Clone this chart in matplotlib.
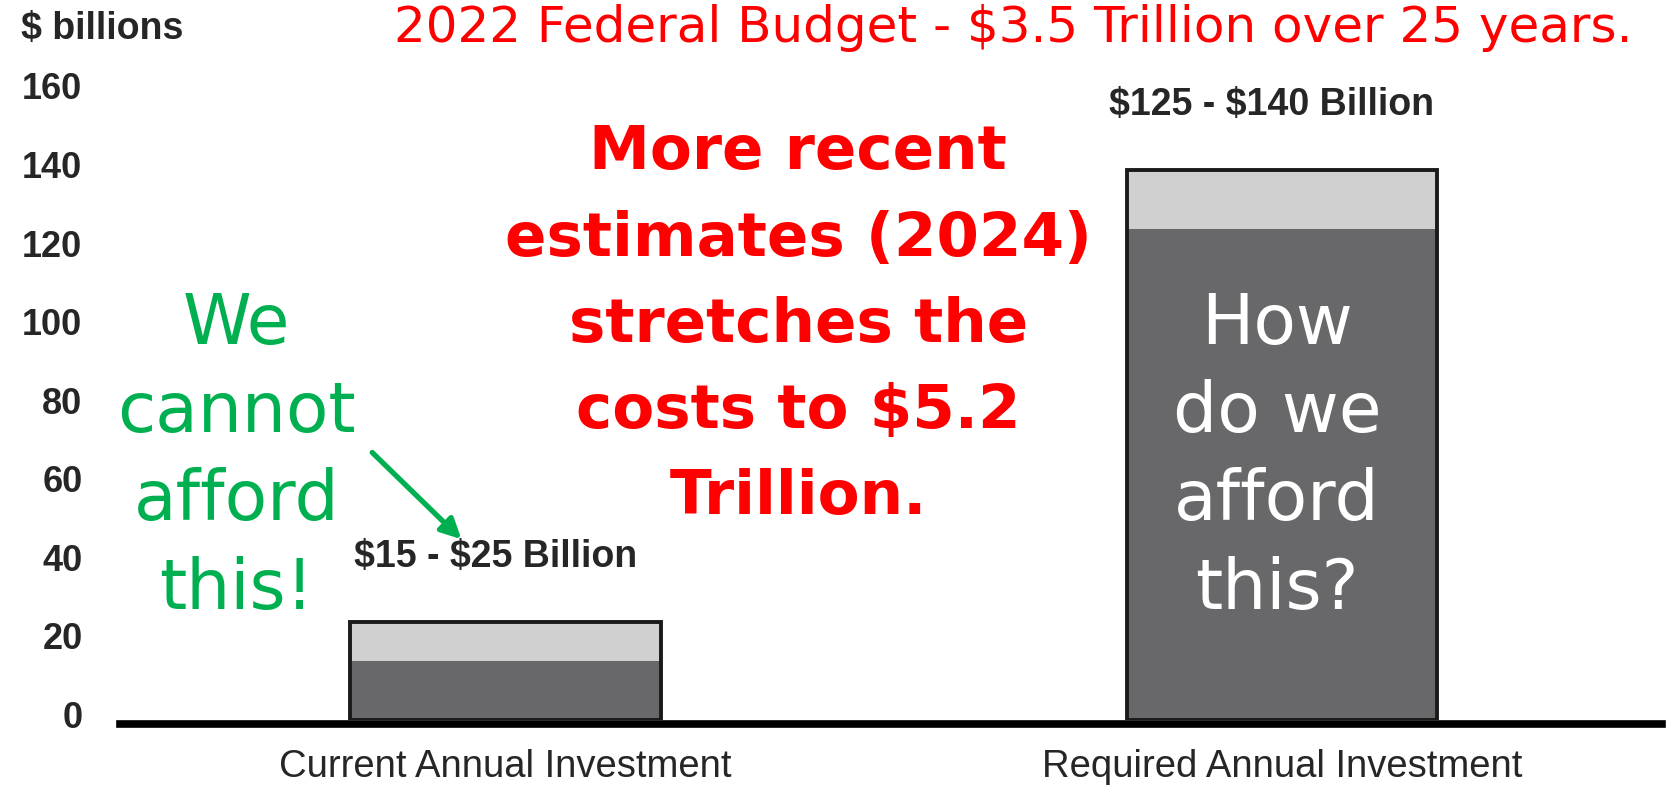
import matplotlib
matplotlib.use("Agg")
import matplotlib.pyplot as plt
from matplotlib.transforms import ScaledTranslation

# investment ranges, $ billions
categories = ["Current Annual Investment", "Required Annual Investment"]
low_vals = [15, 125]
high_vals = [25, 140]
range_labels = ["$15 - $25 Billion", "$125 - $140 Billion"]
y_ticks = [0, 20, 40, 60, 80, 100, 120, 140, 160]

title_txt = "2022 Federal Budget - $3.5 Trillion over 25 years."
red_txt = "More recent\nestimates (2024)\nstretches the\ncosts to $5.2\nTrillion."
green_txt = "We\ncannot\nafford\nthis!"
white_txt = "How\ndo we\nafford\nthis?"

DARK = "#686769"
LIGHT = "#cfd0cf"
RED = "#ff0000"
GREEN = "#00b050"
AXIS_FONT = ["Liberation Sans", "DejaVu Sans"]
SLIDE_FONT = ["DejaVu Sans"]


def esc(s):
    # keep dollar signs literal (no mathtext)
    return s.replace("$", r"\$")


W, H = 1668, 786
fig = plt.figure(figsize=(W / 100, H / 100), dpi=100)
ax = fig.add_axes([120 / W, 66 / H, (1662 - 120) / W, 656 / H])

xs = list(range(len(categories)))
width = 0.4

# dark lower part, light upper range, black outline round the whole bar
ax.bar(xs, low_vals, width=width, color=DARK, linewidth=0, zorder=2)
ax.bar(xs, [h - l for h, l in zip(high_vals, low_vals)], bottom=low_vals,
       width=width, color=LIGHT, linewidth=0, zorder=2)
ax.bar(xs, high_vals, width=width, fill=False, edgecolor="#1a1a1a",
       linewidth=2.8, zorder=3)

for x, top, lab in zip(xs, high_vals, range_labels):
    ax.annotate(esc(lab), (x, top), xytext=(-7, 47), textcoords="offset points",
                ha="center", va="center", fontsize=27, fontweight="bold",
                color="#262626", family=AXIS_FONT)

ax.set_xlim(-0.497, 1.49)
ax.set_ylim(0, 167)

for side in ("top", "right", "left"):
    ax.spines[side].set_visible(False)
ax.spines["bottom"].set_linewidth(5.5)
ax.spines["bottom"].set_color("black")
ax.spines["bottom"].set_position(("outward", 3))

ax.set_yticks(y_ticks)
ax.set_yticklabels([str(v) for v in y_ticks], fontsize=26, fontweight="bold",
                   color="#262626", family=AXIS_FONT)
ax.tick_params(axis="y", length=0, pad=27)
shift = ScaledTranslation(0, 4 / 72, fig.dpi_scale_trans)
for lbl in ax.get_yticklabels():
    lbl.set_transform(lbl.get_transform() + shift)

ax.set_xticks(xs)
ax.set_xticklabels(categories, fontsize=27.5, color="#262626", family=AXIS_FONT)
ax.tick_params(axis="x", length=0, pad=18)

fig.text(21 / W, 1 - 29 / H, "$ billions", fontsize=27, fontweight="bold",
         color="#262626", family=AXIS_FONT, ha="left", va="center")
fig.text(1013 / W, 1 - 28 / H, title_txt, fontsize=36, color=RED,
         family=SLIDE_FONT, ha="center", va="center")

# slide callouts
ax.text(0.377, 100.5, red_txt, fontsize=44, fontweight="bold", color=RED,
        family=SLIDE_FONT, ha="center", va="center", linespacing=1.59, zorder=4)
ax.text(-0.347, 67, green_txt, fontsize=50, color=GREEN, family=SLIDE_FONT,
        ha="center", va="center", linespacing=1.4, zorder=4)
ax.text(0.994, 67, white_txt, fontsize=50, color="white", family=SLIDE_FONT,
        ha="center", va="center", linespacing=1.4, zorder=4)
ax.annotate("", xy=(-0.057, 46), xytext=(-0.172, 68.1),
            arrowprops=dict(arrowstyle="-|>,head_length=1.2,head_width=0.6",
                            color=GREEN, lw=3.8, shrinkA=0, shrinkB=0),
            zorder=4)

fig.savefig("out.png", dpi=100)
